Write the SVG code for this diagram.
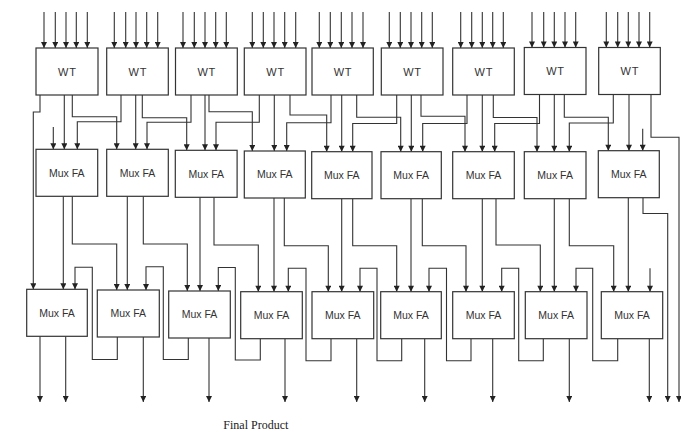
<svg xmlns="http://www.w3.org/2000/svg" width="681" height="433" viewBox="0 0 681 433">
<style>
.box{fill:#fff;stroke:#333;stroke-width:1.2}
.w{fill:none;stroke:#333;stroke-width:1.1}
.a{marker-end:url(#ah)}
.lbl{font-family:"Liberation Sans",Arial,sans-serif;fill:#333;text-anchor:middle}
.wt{font-size:11px;letter-spacing:0.8px}
.mf{font-size:10.5px}
.fp{font-family:"Liberation Serif","Times New Roman",serif;font-size:12px;fill:#222}
</style>
<defs>
<marker id="ah" markerUnits="userSpaceOnUse" markerWidth="7" markerHeight="6" viewBox="0 0 10 10" refX="10" refY="5" orient="auto">
<path d="M0,0 L10,5 L0,10 z" fill="#222"/>
</marker>
</defs>
<rect width="681" height="433" fill="#fff"/>
<g id="connectors" class="w">
<!-- inputs to WT -->
<g class="a">
<path d="M44,12V48"/><path d="M55.3,12V48"/><path d="M66,12V48"/><path d="M76.3,12V48"/><path d="M87.3,12V48"/>
<path d="M114.3,12V48"/><path d="M125.7,12V48"/><path d="M136,12V48"/><path d="M146.7,12V48"/><path d="M157.7,12V48"/>
<path d="M183,12V48"/><path d="M194.3,12V48"/><path d="M205,12V48"/><path d="M215.7,12V48"/><path d="M226.3,12V48"/>
<path d="M252.3,12V48"/><path d="M263.3,12V48"/><path d="M274,12V48"/><path d="M284.7,12V48"/><path d="M295.7,12V48"/>
<path d="M319.3,12V48"/><path d="M330.3,12V48"/><path d="M341.3,12V48"/><path d="M352,12V48"/><path d="M363,12V48"/>
<path d="M389.3,12V48"/><path d="M400.3,12V48"/><path d="M411,12V48"/><path d="M421.7,12V48"/><path d="M432.3,12V48"/>
<path d="M460.7,12V48"/><path d="M471.7,12V48"/><path d="M482.3,12V48"/><path d="M492.7,12V48"/><path d="M503.3,12V48"/>
<path d="M532,12V47.5"/><path d="M543.7,12V47.5"/><path d="M554.3,12V47.5"/><path d="M565,12V47.5"/><path d="M575.7,12V47.5"/>
<path d="M606.3,12V47.5"/><path d="M617.7,12V47.5"/><path d="M628.3,12V47.5"/><path d="M639,12V47.5"/><path d="M649.7,12V47.5"/>
</g>
<!-- WT -> row 2 -->
<polyline class="a" points="40,95 40,112 33.3,112 33.3,289.3"/>
<polyline class="a" points="64.3,95 64.3,149.3"/>
<polyline class="a" points="72.3,95 72.3,116.7 116.7,116.7 116.7,149.3"/>
<polyline class="a" points="53.3,127 53.3,149.3"/>
<polyline class="a" points="121,95 121,121.7 77.3,121.7 77.3,149.3"/>
<polyline class="a" points="135.7,95 135.7,149.3"/>
<polyline class="a" points="142.3,95 142.3,117.7 186.7,117.7 186.7,150.3"/>
<polyline class="a" points="191,95 191,122.3 147,122.3 147,149.3"/>
<polyline class="a" points="205,95 205,150.3"/>
<polyline class="a" points="209,95 209,111.7 252.3,111.7 252.3,151"/>
<polyline class="a" points="259.3,95 259.3,122.3 216,122.3 216,150.3"/>
<polyline class="a" points="274.3,95 274.3,151"/>
<polyline class="a" points="290,95 290,115 326.7,115 326.7,151.7"/>
<polyline class="a" points="331,95 331,122.7 286.7,122.7 286.7,151"/>
<polyline class="a" points="341.7,95 341.7,151.7"/>
<polyline class="a" points="356.7,95 356.7,117.3 400.7,117.3 400.7,151.7"/>
<polyline class="a" points="396.7,95 396.7,123.5 352.7,123.5 352.7,151.7"/>
<polyline class="a" points="411.3,95 411.3,151.7"/>
<polyline class="a" points="421,95 421,116.3 465,116.3 465,151.7"/>
<polyline class="a" points="467,95 467,123.5 422.7,123.5 422.7,151.7"/>
<polyline class="a" points="482.3,95 482.3,151.7"/>
<polyline class="a" points="493.3,95 493.3,117.5 537,117.5 537,151.7"/>
<polyline class="a" points="539.5,94.5 539.5,123.5 494.7,123.5 494.7,151.7"/>
<polyline class="a" points="554.3,94.5 554.3,151.7"/>
<polyline class="a" points="564.3,94.5 564.3,117.3 608.3,117.3 608.3,150.7"/>
<polyline class="a" points="613.3,94.5 613.3,123 569.3,123 569.3,151.7"/>
<polyline class="a" points="629,94.5 629,150.7"/>
<polyline class="a" points="651,94.5 651,137.3 679,137.3 679,402"/>
<polyline class="a" points="642.7,128.7 642.7,150.7"/>
<!-- row 2 -> row 3 -->
<polyline class="a" points="63.3,196.3 63.3,289.3"/>
<polyline class="a" points="72.3,196.3 72.3,244 116.7,244 116.7,290"/>
<polyline class="a" points="127.3,196.3 127.3,290"/>
<polyline class="a" points="143.3,196.3 143.3,244 187.3,244 187.3,291"/>
<polyline class="a" points="200,197.3 200,291"/>
<polyline class="a" points="214,197.3 214,245 258.3,245 258.3,291.7"/>
<polyline class="a" points="274,198 274,291.7"/>
<polyline class="a" points="284.3,198 284.3,245.7 328.3,245.7 328.3,291.7"/>
<polyline class="a" points="341.7,198.7 341.7,291.7"/>
<polyline class="a" points="352.7,198.7 352.7,245.7 396.7,245.7 396.7,291.7"/>
<polyline class="a" points="411,198.7 411,291.7"/>
<polyline class="a" points="422.3,198.7 422.3,245.7 466,245.7 466,291.7"/>
<polyline class="a" points="482.3,198.7 482.3,291.7"/>
<polyline class="a" points="496,198.7 496,245 540.3,245 540.3,291.7"/>
<polyline class="a" points="554.3,198.7 554.3,291.7"/>
<polyline class="a" points="569.3,198.7 569.3,245.7 613.7,245.7 613.7,291.7"/>
<polyline class="a" points="628.3,197.7 628.3,291.7"/>
<polyline class="a" points="643,197.7 643,213.5 667.7,213.5 667.7,402"/>
<!-- carry loops in row 3 -->
<polyline class="a" points="117.3,337 117.3,359.5 92.3,359.5 92.3,267.3 75,267.3 75,289.3"/>
<polyline class="a" points="188.3,338 188.3,359.5 163.3,359.5 163.3,266.7 146,266.7 146,290"/>
<polyline class="a" points="260.3,338.7 260.3,360 235.3,360 235.3,267.5 218.3,267.5 218.3,291"/>
<polyline class="a" points="331,338.7 331,360.7 306,360.7 306,268.3 288.3,268.3 288.3,291.7"/>
<polyline class="a" points="401.7,338.7 401.7,360.7 377,360.7 377,268.3 360,268.3 360,291.7"/>
<polyline class="a" points="471,338.7 471,360.7 446.5,360.7 446.5,268.3 429,268.3 429,291.7"/>
<polyline class="a" points="543.3,338.7 543.3,360.7 518.7,360.7 518.7,268.3 501.7,268.3 501.7,291.7"/>
<polyline class="a" points="617.7,338.7 617.7,360.7 592.7,360.7 592.7,268.3 576,268.3 576,291.7"/>
<polyline class="a" points="650,268.3 650,291.7"/>
<!-- final outputs -->
<g class="a">
<path d="M40,336.3V402"/><path d="M65.7,336.3V402"/><path d="M143.3,337V402"/><path d="M209,338V402"/><path d="M285,338.7V402"/>
<path d="M356.7,338.7V402"/><path d="M424.7,338.7V402"/><path d="M492.7,338.7V402"/><path d="M569.3,338.7V402"/><path d="M649.3,338.7V402"/>
</g>
</g>
<g id="wt1"><rect class="box" x="36" y="48" width="62" height="47"/><text class="lbl wt" x="67.4" y="75.5">WT</text></g>
<g id="wt2"><rect class="box" x="106.7" y="48" width="61.6" height="47"/><text class="lbl wt" x="137.9" y="75.5">WT</text></g>
<g id="wt3"><rect class="box" x="175.5" y="48" width="61.8" height="47"/><text class="lbl wt" x="206.8" y="75.5">WT</text></g>
<g id="wt4"><rect class="box" x="244.3" y="48" width="61.7" height="47"/><text class="lbl wt" x="275.6" y="75.5">WT</text></g>
<g id="wt5"><rect class="box" x="312" y="48" width="61.3" height="47"/><text class="lbl wt" x="343" y="75.5">WT</text></g>
<g id="wt6"><rect class="box" x="381.3" y="48" width="61.7" height="47"/><text class="lbl wt" x="412.5" y="75.5">WT</text></g>
<g id="wt7"><rect class="box" x="452.7" y="48" width="61.6" height="47"/><text class="lbl wt" x="483.9" y="75.5">WT</text></g>
<g id="wt8"><rect class="box" x="524.3" y="47.5" width="61.7" height="47"/><text class="lbl wt" x="555.5" y="75">WT</text></g>
<g id="wt9"><rect class="box" x="598.7" y="47.5" width="61.6" height="47"/><text class="lbl wt" x="629.9" y="75">WT</text></g>
<g id="m2_1"><rect class="box" x="36" y="149.3" width="61.7" height="47"/><text class="lbl mf" x="66.8" y="176.5">Mux FA</text></g>
<g id="m2_2"><rect class="box" x="106.7" y="149.3" width="61.6" height="47"/><text class="lbl mf" x="137.5" y="176.5">Mux FA</text></g>
<g id="m2_3"><rect class="box" x="175.3" y="150.3" width="61.8" height="47"/><text class="lbl mf" x="206.2" y="177.5">Mux FA</text></g>
<g id="m2_4"><rect class="box" x="244.3" y="151" width="61" height="47"/><text class="lbl mf" x="274.8" y="178.2">Mux FA</text></g>
<g id="m2_5"><rect class="box" x="311.7" y="151.7" width="60.3" height="47"/><text class="lbl mf" x="341.8" y="178.9">Mux FA</text></g>
<g id="m2_6"><rect class="box" x="381" y="151.7" width="60.3" height="47"/><text class="lbl mf" x="411.1" y="178.9">Mux FA</text></g>
<g id="m2_7"><rect class="box" x="452.7" y="151.7" width="61.6" height="47"/><text class="lbl mf" x="483.5" y="178.9">Mux FA</text></g>
<g id="m2_8"><rect class="box" x="524.3" y="151.7" width="61.7" height="47"/><text class="lbl mf" x="555.1" y="178.9">Mux FA</text></g>
<g id="m2_9"><rect class="box" x="598.3" y="150.7" width="61" height="47"/><text class="lbl mf" x="628.8" y="177.9">Mux FA</text></g>
<g id="m3_1"><rect class="box" x="26.7" y="289.3" width="60.6" height="47"/><text class="lbl mf" x="57" y="316.5">Mux FA</text></g>
<g id="m3_2"><rect class="box" x="97.3" y="290" width="62" height="47"/><text class="lbl mf" x="128.3" y="317.2">Mux FA</text></g>
<g id="m3_3"><rect class="box" x="168.7" y="291" width="61.6" height="47"/><text class="lbl mf" x="199.5" y="318.2">Mux FA</text></g>
<g id="m3_4"><rect class="box" x="240.7" y="291.7" width="61.6" height="47"/><text class="lbl mf" x="271.5" y="318.9">Mux FA</text></g>
<g id="m3_5"><rect class="box" x="312" y="291.7" width="61.7" height="47"/><text class="lbl mf" x="342.8" y="318.9">Mux FA</text></g>
<g id="m3_6"><rect class="box" x="380.7" y="291.7" width="60.6" height="47"/><text class="lbl mf" x="411" y="318.9">Mux FA</text></g>
<g id="m3_7"><rect class="box" x="452.7" y="291.7" width="61.6" height="47"/><text class="lbl mf" x="483.5" y="318.9">Mux FA</text></g>
<g id="m3_8"><rect class="box" x="525.3" y="291.7" width="61.7" height="47"/><text class="lbl mf" x="556.1" y="318.9">Mux FA</text></g>
<g id="m3_9"><rect class="box" x="601.3" y="291.7" width="61.4" height="47"/><text class="lbl mf" x="632" y="318.9">Mux FA</text></g>
<text class="fp" x="223.3" y="429.3">Final Product</text>
</svg>
